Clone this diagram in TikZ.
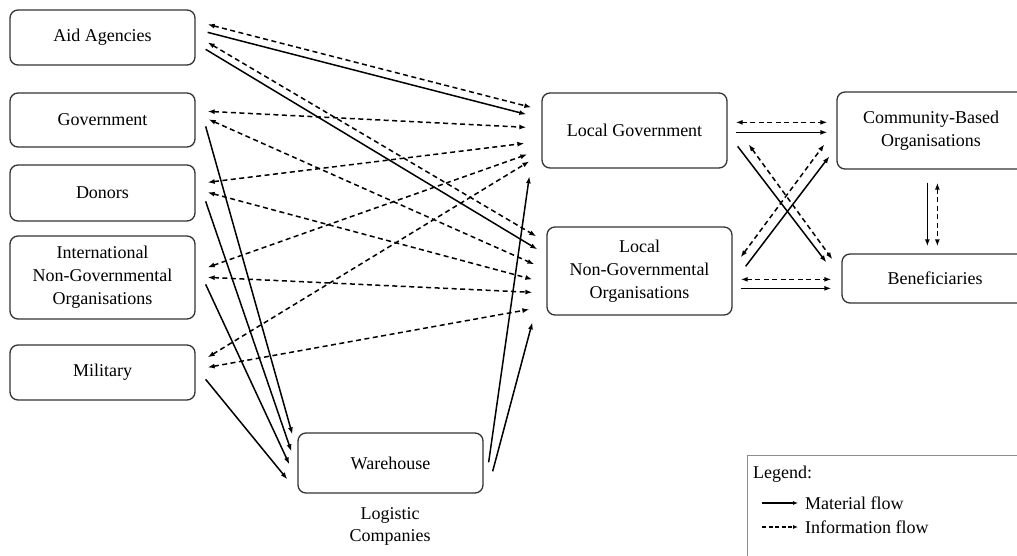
\documentclass[tikz,border=0pt]{standalone}
\usepackage{fontspec}
\setmainfont{Liberation Serif}
\usetikzlibrary{calc,arrows.meta}

\tikzset{
  box/.style={draw=black!80, rounded corners=8pt, line width=1.3pt,
    align=center, inner sep=0pt, font=\fontsize{18}{23}\selectfont},
  lbl/.style={align=center, inner sep=0pt, font=\fontsize{18}{22}\selectfont},
  tip/.tip={Latex[length=7pt,width=5pt]},
  mat/.style={-tip, line width=1.5pt},
  info/.style={tip-tip, line width=1.5pt, dash pattern=on 5pt off 3.5pt},
}

\begin{document}
\begin{tikzpicture}[x=1pt,y=-1pt]
\useasboundingbox (0,0) rectangle (1017,556);
\fill[white] (0,0) rectangle (1017,556);

% actors on the left
\node[box, minimum width=185pt, minimum height=55pt] (aid)  at (102.5,37.5) {Aid Agencies};
\node[box, minimum width=185pt, minimum height=54pt] (gov)  at (102.5,120)  {Government};
\node[box, minimum width=185pt, minimum height=56pt] (don)  at (102.5,193)  {Donors};
\node[box, minimum width=185pt, minimum height=83pt] (ingo) at (102.5,277.5)
  {International\\Non-Governmental\\Organisations};
\node[box, minimum width=185pt, minimum height=55pt] (mil)  at (102.5,372.5) {Military};

% warehouse
\node[box, minimum width=185pt, minimum height=60pt] (wh) at (390.5,463) {Warehouse};
\node[lbl] (logi) at (390,526) {Logistic\\Companies};

% local actors
\node[box, minimum width=185pt, minimum height=75pt] (lg)   at (634.5,130.5) {Local Government};
\node[box, minimum width=185pt, minimum height=88pt] (lngo) at (639.5,271)
  {Local\\Non-Governmental\\Organisations};
\node[box, minimum width=188pt, minimum height=77pt] (cbo)  at (931,130.5)
  {Community-Based\\Organisations};
\node[box, minimum width=186pt, minimum height=49pt] (ben)  at (935,278.5) {Beneficiaries};

% Aid Agencies
\draw[info] ($(aid.north east)+(12,15)$) -- ($(lg.north west)+(-10,15)$);
\draw[mat]  ($(aid.north east)+(12,23)$) -- ($(lg.north west)+(-15,22)$);
\draw[info] ($(aid.north east)+(12,33)$) -- ($(lngo.north west)+(-10,10)$);
\draw[mat]  ($(aid.north east)+(10,40)$) -- ($(lngo.north west)+(-9,23)$);

% Government
\draw[info] ($(gov.north east)+(12,19)$) -- ($(lg.north west)+(-15,35)$);
\draw[info] ($(gov.north east)+(13,27)$) -- ($(lngo.north west)+(-12,38)$);
\draw[mat]  ($(gov.north east)+(10,34)$) -- ($(wh.north west)+(-5,2)$);

% Donors
\draw[info] ($(don.north east)+(12,18)$) -- ($(lg.north west)+(-17,51)$);
\draw[info] ($(don.north east)+(12,28)$) -- ($(lngo.north west)+(-14,53)$);
\draw[mat]  ($(don.north east)+(10,37)$) -- ($(wh.north west)+(-6,19)$);

% International NGOs
\draw[info] ($(ingo.north east)+(12,32)$) -- ($(lg.north west)+(-14,62)$);
\draw[info] ($(ingo.north east)+(12,42)$) -- ($(lngo.north west)+(-14,66)$);
\draw[mat]  ($(ingo.north east)+(10,49)$) -- ($(wh.north west)+(-8,32)$);

% Military
\draw[info] ($(mil.north east)+(12,13)$) -- ($(lg.north west)+(-12,69)$);
\draw[info] ($(mil.north east)+(12,23)$) -- ($(lngo.north west)+(-17,83)$);
\draw[mat]  ($(mil.north east)+(10,35)$) -- ($(wh.north west)+(-10,47)$);

% Warehouse to local actors
\draw[mat] ($(wh.north east)+(5,30)$) -- ($(lg.north west)+(-12,84)$);
\draw[mat] ($(wh.north east)+(9,39)$) -- ($(lngo.north west)+(-14,96)$);

% Local Government
\draw[info] ($(lg.north east)+(8,30)$)  -- ($(cbo.north west)+(-9,31)$);
\draw[mat]  ($(lg.north east)+(8,40)$)  -- ($(cbo.north west)+(-9,41)$);
\draw[mat]  ($(lg.north east)+(10,54)$) -- ($(ben.north west)+(-15,9)$);
\draw[info] ($(lg.north east)+(21,52)$) -- ($(ben.north west)+(-9,6)$);

% Local NGOs
\draw[info] ($(lngo.north east)+(8,31)$)  -- ($(cbo.north west)+(-12,53)$);
\draw[mat]  ($(lngo.north east)+(13,40)$) -- ($(cbo.north west)+(-7,65)$);
\draw[info] ($(lngo.north east)+(8,53)$)  -- ($(ben.north west)+(-10,26)$);
\draw[mat]  ($(lngo.north east)+(8,62)$)  -- ($(ben.north west)+(-10,35)$);

% Community-Based Organisations and Beneficiaries
\draw[mat]  ($(cbo.south west)+(91,13)$)  -- ($(ben.north west)+(86,-7)$);
\draw[info] ($(cbo.south west)+(101,13)$) -- ($(ben.north west)+(96,-7)$);

% legend
\node[draw=black!45, line width=0.9pt, minimum width=290pt, minimum height=120pt,
      anchor=north west, inner sep=0pt] (legend) at (747,455) {};
\node[lbl, anchor=west] (legtitle) at (753,474) {Legend:};
\coordinate (m1) at (762,503);
\coordinate (m2) at (798,503);
\coordinate (i1) at (762,527);
\coordinate (i2) at (798,527);
\draw[-{Latex[length=5pt,width=4pt]}, line width=1.2pt] (m1) -- (m2);
\draw[-{Latex[length=5pt,width=4pt]}, line width=1.2pt,
      dash pattern=on 4pt off 2.5pt] (i1) -- (i2);
\node[lbl, anchor=west] (legmat) at (805,503) {Material flow};
\node[lbl, anchor=west] (leginfo) at (805,527) {Information flow};
\end{tikzpicture}
\end{document}
